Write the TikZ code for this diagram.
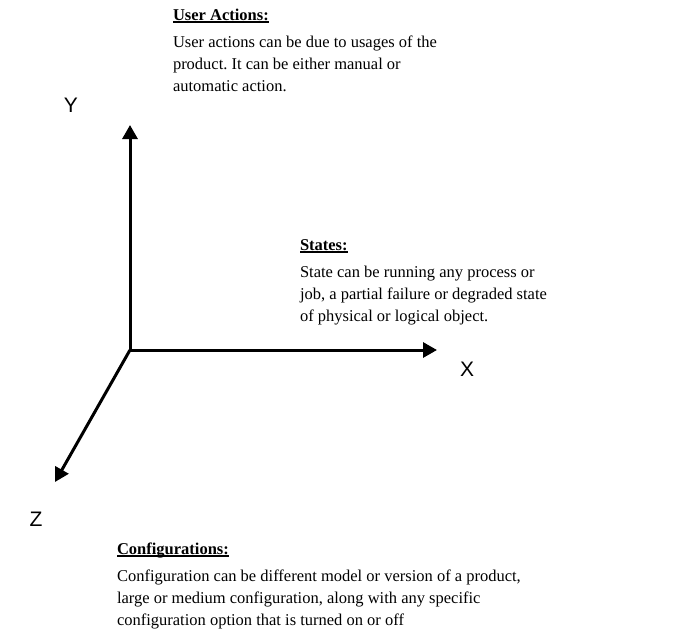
\documentclass[tikz,border=0pt]{standalone}
\usepackage{fontspec}
\setmainfont{Liberation Serif}
\newfontfamily\axisfont{Liberation Sans}
\usetikzlibrary{positioning, arrows.meta}

% bold heading with a thick rule beneath it
\newcommand{\headrule}[1]{\setbox0\hbox{#1}\rlap{\rule[-3pt]{\wd0}{1.6pt}}\box0}
\frenchspacing

\begin{document}
\begin{tikzpicture}[x=1pt, y=-1pt,
    every node/.style={inner sep=0pt, outer sep=0pt},
    axis/.style={line width=3pt, -{Triangle[length=14pt, width=15pt]}},
    axislabel/.style={font=\axisfont\fontsize{21}{21}\selectfont},
    heading/.style={font=\bfseries\fontsize{16.5}{22}\selectfont, anchor=base west, text depth=0pt},
    desc/.style={font=\fontsize{16.5}{22}\selectfont, align=left}]
    \useasboundingbox (0,0) rectangle (676,637);

    % the three axes
    \coordinate (O) at (130,350);
    \coordinate (XEnd) at (437,350);
    \coordinate (YEnd) at (130,125);
    \coordinate (ZEnd) at (55,482);

    \draw [axis] (O) -- (XEnd);
    \draw [axis] (O) -- (YEnd);
    \draw [axis] (O) -- (ZEnd);

    \node [axislabel] (XName) at (467,369) {X};
    \node [axislabel] (YName) at (71,105) {Y};
    \node [axislabel] (ZName) at (36,519) {Z};

    % notes for each axis
    \node [heading] (UserHead) at (173,20) {\headrule{User Actions:}};
    \node [desc, below=16pt of UserHead.south west, anchor=north west] (UserText)
        {User actions can be due to usages of the\\
         product. It can be either manual or\\
         automatic action.};

    \node [heading] (StateHead) at (300,250) {\headrule{States:}};
    \node [desc, below=16pt of StateHead.south west, anchor=north west] (StateText)
        {State can be running any process or\\
         job, a partial failure or degraded state\\
         of physical or logical object.};

    \node [heading] (ConfHead) at (117,554) {\headrule{Configurations:}};
    \node [desc, below=16pt of ConfHead.south west, anchor=north west] (ConfText)
        {Configuration can be different model or version of a product,\\
         large or medium configuration, along with any specific\\
         configuration option that is turned on or off};

\end{tikzpicture}
\end{document}
